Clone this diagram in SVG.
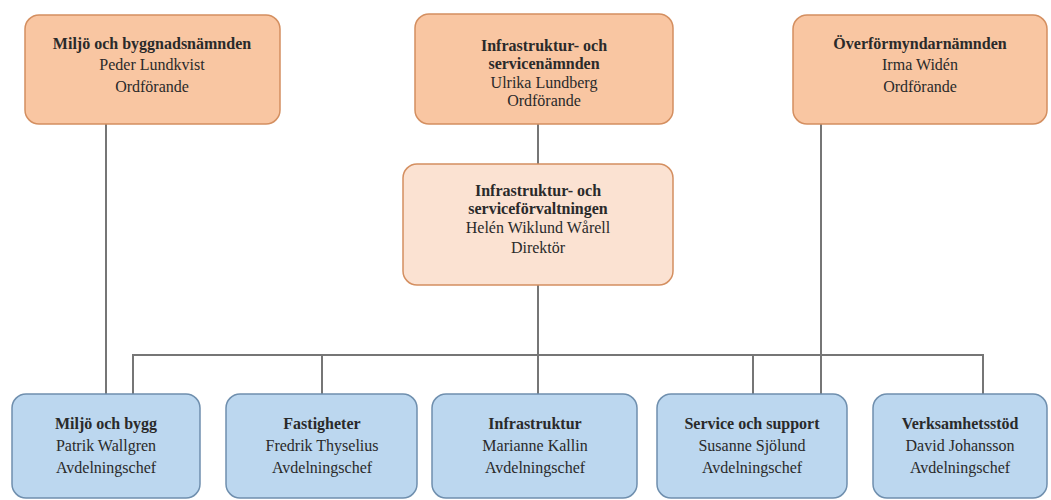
<svg xmlns="http://www.w3.org/2000/svg" width="1051" height="500" viewBox="0 0 1051 500">
<style>
.top{fill:#f9c6a2;stroke:#d48f60;stroke-width:1.5}
.mid{fill:#fbe2d2;stroke:#d48f60;stroke-width:1.5}
.bot{fill:#bcd7ef;stroke:#6f8fae;stroke-width:1.5}
text{font-family:"Liberation Serif",serif;font-size:16px;fill:#2a2a2a;text-anchor:middle}
.b{font-weight:bold}
.ln{stroke:#767676;stroke-width:2;fill:none}
</style>
<rect width="1051" height="500" fill="#ffffff"/>
<g id="connectors">
<line class="ln" x1="106" y1="124" x2="106" y2="394"/>
<line class="ln" x1="538" y1="124" x2="538" y2="164"/>
<line class="ln" x1="538" y1="285" x2="538" y2="394"/>
<line class="ln" x1="821" y1="124" x2="821" y2="394"/>
<polyline class="ln" points="133,394 133,355 983,355 983,394"/>
<line class="ln" x1="322" y1="355" x2="322" y2="394"/>
<line class="ln" x1="753" y1="355" x2="753" y2="394"/>
</g>
<g id="n-miljo-namnd">
<rect class="top" x="25" y="15" width="255" height="109" rx="14"/>
<text x="152" y="49" class="b">Miljö och byggnadsnämnden</text>
<text x="152" y="70">Peder Lundkvist</text>
<text x="152" y="92">Ordförande</text>
</g>
<g id="n-infra-namnd">
<rect class="top" x="415" y="14" width="258" height="110" rx="14"/>
<text x="544" y="51" class="b">Infrastruktur- och</text>
<text x="544" y="69" class="b">servicenämnden</text>
<text x="544" y="88">Ulrika Lundberg</text>
<text x="544" y="106">Ordförande</text>
</g>
<g id="n-overformyndar">
<rect class="top" x="793" y="15" width="254" height="109" rx="14"/>
<text x="920" y="49" class="b">Överförmyndarnämnden</text>
<text x="920" y="70">Irma Widén</text>
<text x="920" y="92">Ordförande</text>
</g>
<g id="n-forvaltning">
<rect class="mid" x="403" y="164" width="270" height="121" rx="14"/>
<text x="538" y="196" class="b">Infrastruktur- och</text>
<text x="538" y="214" class="b">serviceförvaltningen</text>
<text x="538" y="233">Helén Wiklund Wårell</text>
<text x="538" y="253">Direktör</text>
</g>
<g id="n-miljo-bygg">
<rect class="bot" x="12" y="394" width="188" height="104" rx="14"/>
<text x="106" y="429" class="b">Miljö och bygg</text>
<text x="106" y="451">Patrik Wallgren</text>
<text x="106" y="473">Avdelningschef</text>
</g>
<g id="n-fastigheter">
<rect class="bot" x="226" y="394" width="191" height="104" rx="14"/>
<text x="322" y="429" class="b">Fastigheter</text>
<text x="322" y="451">Fredrik Thyselius</text>
<text x="322" y="473">Avdelningschef</text>
</g>
<g id="n-infrastruktur">
<rect class="bot" x="432" y="394" width="205" height="104" rx="14"/>
<text x="535" y="429" class="b">Infrastruktur</text>
<text x="535" y="451">Marianne Kallin</text>
<text x="535" y="473">Avdelningschef</text>
</g>
<g id="n-service">
<rect class="bot" x="657" y="394" width="190" height="104" rx="14"/>
<text x="752" y="429" class="b">Service och support</text>
<text x="752" y="451">Susanne Sjölund</text>
<text x="752" y="473">Avdelningschef</text>
</g>
<g id="n-verksamhet">
<rect class="bot" x="873" y="394" width="174" height="104" rx="14"/>
<text x="960" y="429" class="b">Verksamhetsstöd</text>
<text x="960" y="451">David Johansson</text>
<text x="960" y="473">Avdelningschef</text>
</g>
</svg>
